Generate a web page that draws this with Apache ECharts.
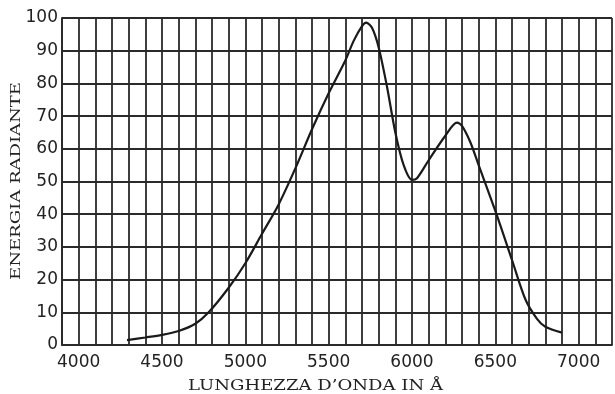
<!DOCTYPE html>
<html>
<head>
<meta charset="utf-8">
<script src="https://cdn.jsdelivr.net/npm/echarts@6/dist/echarts.min.js"></script>
<style>
html,body{margin:0;padding:0;background:#fff;}
#chart{width:615px;height:394px;}
</style>
</head>
<body>
<div id="chart"></div>
<script>
const wavelengths = [4290,4400,4500,4600,4700,4780,4900,5000,5100,5200,5300,5400,5500,5600,5650,5700,5725,5760,5800,5850,5900,5950,6000,6030,6100,6200,6270,6300,6350,6400,6500,6600,6680,6750,6800,6900];
const energy      = [1.5,2.3,3.1,4.3,6.5,10,17.5,25,34,43,54,66,77,87,93,97.5,98.6,97,91,79,65,55,50.5,51,56.5,64,68,67,62,55,41,26,14,8,5.6,3.8];
const xTickLabels = [4000,4500,5000,5500,6000,6500,7000];
const yTickLabels = [0,10,20,30,40,50,60,70,80,90,100];
const xTitle = "LUNGHEZZA D\u2019ONDA IN \u00C5";
const yTitle = "ENERGIA RADIANTE";

function fitScale(text, font, target) {
  const c = document.createElement('canvas').getContext('2d');
  c.font = font;
  return target / c.measureText(text).width;
}
const xFont = '14px "DejaVu Serif"';
const yFont = '12px "DejaVu Serif"';
const xScale = fitScale(xTitle, xFont, 255);
const yScale = fitScale(yTitle, yFont, 198);

const chart = echarts.init(document.getElementById('chart'));
const gridColor = '#2a2a2a';
chart.setOption({
  animation: false,
  backgroundColor: '#fff',
  grid: {left: 62, right: 3, top: 18, bottom: 49},
  xAxis: {
    type: 'value', min: 3900, max: 7200, interval: 100,
    axisLine: {show: true, lineStyle: {color: gridColor, width: 1.8}},
    axisTick: {show: false},
    splitLine: {show: true, lineStyle: {color: gridColor, width: 1.8}},
    axisLabel: {
      margin: 9, color: '#222', fontFamily: 'DejaVu Sans', fontSize: 17,
      formatter: v => xTickLabels.indexOf(v) >= 0 ? String(v) : ''
    }
  },
  yAxis: {
    type: 'value', min: 0, max: 100, interval: 10,
    axisLine: {show: true, lineStyle: {color: gridColor, width: 1.8}},
    axisTick: {show: false},
    splitLine: {show: true, lineStyle: {color: gridColor, width: 1.8}},
    axisLabel: {
      margin: 4, color: '#222', fontFamily: 'DejaVu Sans', fontSize: 17,
      formatter: v => yTickLabels.indexOf(v) >= 0 ? String(v) : ''
    }
  },
  graphic: [
    {type: 'text', x: 188, y: 379, scaleX: xScale,
     style: {text: xTitle, fontFamily: 'DejaVu Serif', fontSize: 14, fill: '#222'}},
    {type: 'text', x: 11, y: 280, rotation: Math.PI/2, scaleX: yScale,
     style: {text: yTitle, fontFamily: 'DejaVu Serif', fontSize: 12, fill: '#222'}}
  ],
  series: [{
    type: 'line',
    data: wavelengths.map((w, i) => [w, energy[i]]),
    smooth: 0.3,
    showSymbol: false,
    lineStyle: {color: '#1a1a1a', width: 2.2}
  }]
});
</script>
</body>
</html>
